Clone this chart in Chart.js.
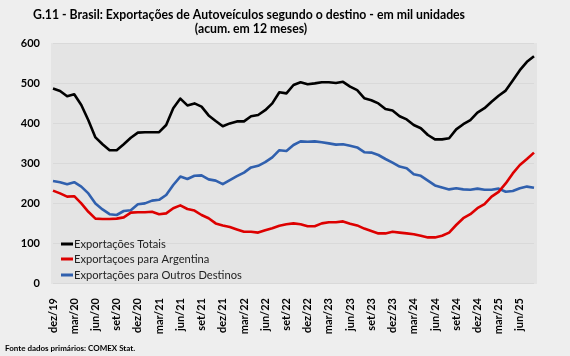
<!DOCTYPE html>
<html>
<head>
<meta charset="utf-8">
<script src="https://cdn.jsdelivr.net/npm/chart.js@4/dist/chart.umd.min.js"></script>
<style>
  html, body { margin: 0; padding: 0; background: #eeeeee; }
  #wrap { width: 570px; height: 356px; position: relative; }
</style>
</head>
<body>
<div id="wrap"><canvas id="c" width="570" height="356"></canvas></div>
<script>
// ---- Data (mil unidades, acumulado em 12 meses), dez/19 .. ago/25 ----
const months = [
  'dez/19',
  'jan/20','fev/20','mar/20','abr/20','mai/20','jun/20','jul/20','ago/20','set/20','out/20','nov/20','dez/20',
  'jan/21','fev/21','mar/21','abr/21','mai/21','jun/21','jul/21','ago/21','set/21','out/21','nov/21','dez/21',
  'jan/22','fev/22','mar/22','abr/22','mai/22','jun/22','jul/22','ago/22','set/22','out/22','nov/22','dez/22',
  'jan/23','fev/23','mar/23','abr/23','mai/23','jun/23','jul/23','ago/23','set/23','out/23','nov/23','dez/23',
  'jan/24','fev/24','mar/24','abr/24','mai/24','jun/24','jul/24','ago/24','set/24','out/24','nov/24','dez/24',
  'jan/25','fev/25','mar/25','abr/25','mai/25','jun/25','jul/25','ago/25'
];

const exportacoesTotais = [
  486, 480, 467, 472, 445, 407, 364, 347, 332, 332, 347, 363, 376,
  377, 377, 377, 395, 437, 461, 444, 449, 441, 419, 405, 392,
  399, 404, 404, 417, 420, 432, 449, 477, 474, 495, 502, 497,
  499, 502, 502, 500, 503, 491, 482, 462, 457, 449, 435, 431,
  417, 409, 395, 387, 370, 359, 359, 362, 384, 397, 407, 426,
  437, 453, 468, 481, 506, 532, 553, 567
];

const exportacoesArgentina = [
  231, 224, 216, 217, 199, 178, 161, 160, 160, 161, 164, 176, 177,
  177, 178, 172, 174, 187, 194, 185, 181, 170, 162, 149, 144,
  140, 134, 128, 128, 126, 132, 137, 143, 147, 149, 147, 142,
  142, 149, 152, 152, 154, 148, 144, 136, 130, 124, 124, 128,
  126, 124, 122, 118, 114, 114, 118, 126, 145, 162, 172, 187,
  197, 216, 228, 249, 274, 295, 310, 326
];

const exportacoesOutros = [
  255, 252, 247, 252, 241, 224, 199, 184, 172, 170, 180, 182, 197,
  199, 206, 208, 220, 245, 266, 260, 268, 269, 259, 256, 247,
  257, 267, 276, 289, 293, 302, 314, 332, 330, 345, 354, 353,
  354, 352, 349, 346, 347, 343, 339, 327, 326, 320, 310, 301,
  291, 287, 272, 268, 256, 244, 239, 234, 237, 234, 233, 236,
  233, 233, 236, 228, 230, 237, 241, 238
];

const seriesLabels = ['Exportações Totais', 'Exportaçoes para Argentina', 'Exportações para Outros Destinos'];
const seriesColors = ['#000000', '#dd0000', '#3060ae'];
const yTicks = [0, 100, 200, 300, 400, 500, 600];

const titleLines = ['G.11 - Brasil: Exportações de Autoveículos segundo o destino - em mil unidades', '(acum. em 12 meses)'];
const sourceText = 'Fonte dados primários: COMEX Stat.';

const FONT = "Lato, 'Liberation Sans', sans-serif";

const decorPlugin = {
  id: 'decor',
  beforeDraw(chart) {
    const ctx = chart.ctx, a = chart.chartArea;
    ctx.save();
    ctx.fillStyle = '#eeeeee';
    ctx.fillRect(0, 0, chart.width, chart.height);
    ctx.fillStyle = '#e4e4e4';
    ctx.fillRect(a.left - 2, a.top, (a.right - a.left) + 5, a.bottom - a.top + 1);
    ctx.restore();
  },
  afterDraw(chart) {
    const ctx = chart.ctx;
    ctx.save();
    // Title (condensed to the reference's narrow face)
    ctx.fillStyle = '#000';
    ctx.textAlign = 'center';
    ctx.textBaseline = 'middle';
    ctx.font = "bold 14px " + FONT;
    const w0 = ctx.measureText(titleLines[0]).width;
    const k = Math.min(1, 432 / w0);
    ctx.fillText(titleLines[0], 249, 14, w0 * k);
    const w1 = ctx.measureText(titleLines[1]).width;
    ctx.fillText(titleLines[1], 251, 28, w1 * k);
    // Legend inside plot
    ctx.textAlign = 'left';
    ctx.font = "12px " + FONT;
    const ys = [244, 259, 275];
    chart.data.datasets.forEach((ds, i) => {
      ctx.strokeStyle = ds.borderColor;
      ctx.lineWidth = 3;
      ctx.beginPath();
      ctx.moveTo(61, ys[i]);
      ctx.lineTo(73, ys[i]);
      ctx.stroke();
      ctx.fillStyle = '#222';
      const tw = ctx.measureText(ds.label).width;
      ctx.fillText(ds.label, 74, ys[i] + 0.5, tw * 0.93);
    });
    // Source
    ctx.font = "bold 8px " + FONT;
    ctx.fillStyle = '#000';
    ctx.fillText(sourceText, 5, 348);
    ctx.restore();
  }
};

new Chart(document.getElementById('c'), {
  type: 'line',
  data: {
    labels: months,
    datasets: [
      { label: seriesLabels[0], data: exportacoesTotais, borderColor: seriesColors[0] },
      { label: seriesLabels[1], data: exportacoesArgentina, borderColor: seriesColors[1] },
      { label: seriesLabels[2], data: exportacoesOutros, borderColor: seriesColors[2] }
    ].map(d => Object.assign(d, { borderWidth: 2.6, pointRadius: 0, tension: 0, fill: false, borderJoinStyle: 'round' }))
  },
  options: {
    responsive: false,
    animation: false,
    devicePixelRatio: 1,
    layout: { padding: { top: 43, right: 36, bottom: 0, left: 0 } },
    plugins: { legend: { display: false }, title: { display: false }, tooltip: { enabled: false } },
    scales: {
      x: {
        offset: false,
        grid: { display: false },
        border: { display: false },
        ticks: {
          autoSkip: false,
          maxRotation: 90,
          minRotation: 90,
          padding: 7,
          color: '#000',
          font: { family: FONT, size: 11, weight: 'bold' },
          callback: function(v, i) { return i % 3 === 0 ? months[i] : ''; }
        },
        afterFit(scale) { scale.height = 73; }
      },
      y: {
        min: yTicks[0],
        max: yTicks[yTicks.length - 1],
        afterBuildTicks(scale) { scale.ticks = yTicks.map(v => ({ value: v })); },
        grid: { color: '#d9d9d9', lineWidth: 1, drawTicks: false },
        border: { display: false },
        ticks: {
          padding: 13,
          color: '#000',
          font: { family: FONT, size: 11, weight: 'bold' }
        },
        afterFit(scale) { scale.width = 53; }
      }
    }
  },
  plugins: [decorPlugin]
});
</script>
</body>
</html>
